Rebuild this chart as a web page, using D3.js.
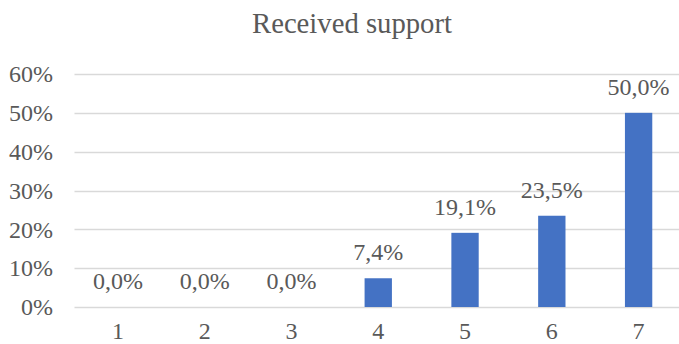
<!DOCTYPE html>
<html>
<head>
<meta charset="utf-8">
<script src="https://cdn.jsdelivr.net/npm/d3@7"></script>
<style>
  html, body { margin: 0; padding: 0; background: #fff; }
  svg { display: block; }
  svg text { font-family: "Liberation Serif", "Times New Roman", serif; fill: #595959; }
</style>
</head>
<body>
<script>
// Chart data
const categories = ["1", "2", "3", "4", "5", "6", "7"];
const values = [0.0, 0.0, 0.0, 7.4, 19.1, 23.5, 50.0];
const yTicks = [0, 10, 20, 30, 40, 50, 60];
const title = "Received support";

const W = 679, H = 344;
const svg = d3.select("body").append("svg").attr("width", W).attr("height", H);

const x = d3.scaleBand().domain(categories).range([74.5, 682]).paddingInner(0.685).paddingOuter(0.3425);
const y = d3.scaleLinear().domain([0, 60]).range([307, 74]);

// Gridlines
svg.append("g")
  .selectAll("line")
  .data(yTicks)
  .join("line")
  .attr("x1", 74.5).attr("x2", 682)
  .attr("y1", d => Math.round(y(d)) + 0.5).attr("y2", d => Math.round(y(d)) + 0.5)
  .attr("stroke", "#d9d9d9").attr("stroke-width", 1.5);

// Y axis labels
const yAxis = d3.axisLeft(y).tickValues(yTicks).tickSize(0).tickPadding(0)
  .tickFormat(d => d + "%");
svg.append("g")
  .attr("transform", "translate(53,0)")
  .call(yAxis)
  .call(g => g.select(".domain").remove())
  .attr("font-family", null)
  .selectAll("text")
  .attr("font-size", 24)
  .attr("fill", "#595959");

// X axis labels
const xAxis = d3.axisBottom(x).tickSize(0).tickPadding(0);
svg.append("g")
  .attr("transform", "translate(0,322)")
  .call(xAxis)
  .call(g => g.select(".domain").remove())
  .attr("font-family", null)
  .selectAll("text")
  .attr("font-size", 24)
  .attr("fill", "#595959");

// Bars
svg.append("g")
  .selectAll("rect")
  .data(values)
  .join("rect")
  .attr("x", (d, i) => x(categories[i]))
  .attr("width", x.bandwidth())
  .attr("y", d => y(d))
  .attr("height", d => y(0) - y(d))
  .attr("fill", "#4472c4");

// Value labels
svg.append("g")
  .selectAll("text")
  .data(values)
  .join("text")
  .attr("x", (d, i) => x(categories[i]) + x.bandwidth() / 2)
  .attr("y", d => y(d) - 18)
  .attr("text-anchor", "middle")
  .attr("font-size", 24)
  .text(d => d.toFixed(1).replace(".", ",") + "%");

// Title
svg.append("text")
  .attr("x", 352)
  .attr("y", 33)
  .attr("text-anchor", "middle")
  .attr("font-size", 28.7)
  .text(title);
</script>
</body>
</html>
